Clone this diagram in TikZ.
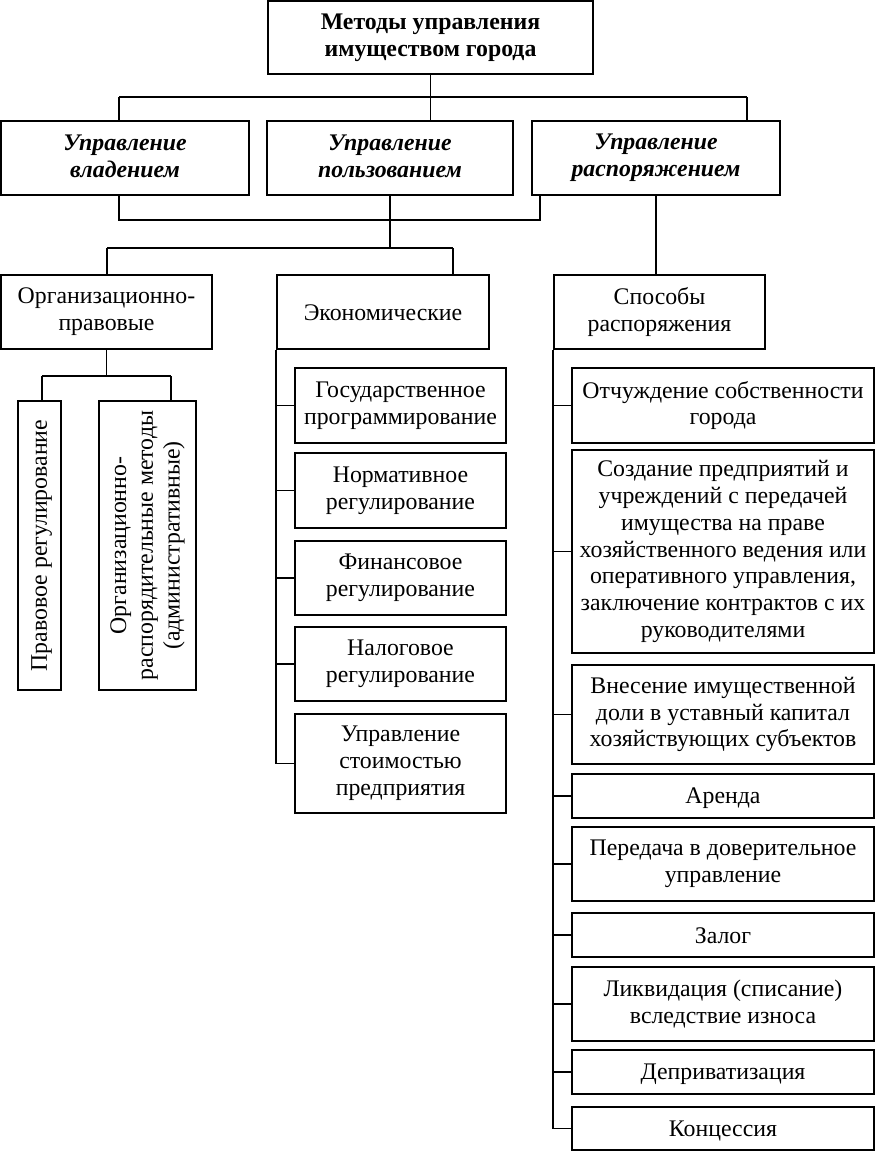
\documentclass[tikz,border=0pt]{standalone}
\usepackage{fontspec}
\setmainfont{Liberation Serif}
\newcommand\myfs{\fontsize{23.8}{26.8}\selectfont}
\newcommand\mystrut{\rule[-3.4pt]{0pt}{23.4pt}}
\begin{document}
\begin{tikzpicture}[x=1pt,y=-1pt,
  box/.style={draw, line width=1.8pt, inner sep=0pt, align=center, font=\myfs,
    execute at begin node=\mystrut, execute at end node=\mystrut},
  conn/.style={line width=1.8pt}]
\useasboundingbox (0,0) rectangle (876,1151);
% level 0
\node[box, font=\myfs\bfseries, minimum width=325, minimum height=73] (top) at (430.5,37.5) {Методы управления\\имуществом города};
% level 1
\node[box, font=\myfs\bfseries\itshape, minimum width=248, minimum height=74] (b1) at (125,158) {Управление\\владением};
\node[box, font=\myfs\bfseries\itshape, minimum width=246, minimum height=74] (b2) at (390,158) {Управление\\пользованием};
\node[box, font=\myfs\bfseries\itshape, minimum width=248, minimum height=74] (b3) at (656,158) {Управление\\распоряжением};
% level 2
\node[box, minimum width=211, minimum height=74] (org) at (106.5,312) {Организационно-\\правовые};
\node[box, minimum width=212, minimum height=74] (econ) at (383,312) {Экономические};
\node[box, minimum width=211, minimum height=74] (sposob) at (659.5,312) {Способы\\распоряжения};
% org children
\node[box, rotate=90, minimum width=289, minimum height=43] (prav) at (39.5,545.5) {Правовое регулирование};
\node[box, rotate=90, minimum width=289, minimum height=97] (orgrasp) at (147.5,545.5) {Организационно-\\распорядительные методы\\(административные)};
% econ children
\node[box, minimum width=211, minimum height=75] (e1) at (400.5,405.5) {Государственное\\программирование};
\node[box, minimum width=211, minimum height=75] (e2) at (400.5,490.5) {Нормативное\\регулирование};
\node[box, minimum width=211, minimum height=74] (e3) at (400.5,578) {Финансовое\\регулирование};
\node[box, minimum width=211, minimum height=74] (e4) at (400.5,664) {Налоговое\\регулирование};
\node[box, minimum width=211, minimum height=99] (e5) at (400.5,763.5) {Управление\\стоимостью\\предприятия};
% sposob children
\node[box, minimum width=302, minimum height=75] (r1) at (723,405.5) {Отчуждение собственности\\города};
\node[box, minimum width=302, minimum height=203] (r2) at (723,551.5) {Создание предприятий и\\учреждений с передачей\\имущества на праве\\хозяйственного ведения или\\оперативного управления,\\заключение контрактов с их\\руководителями};
\node[box, minimum width=302, minimum height=99] (r3) at (723,714.5) {Внесение имущественной\\доли в уставный капитал\\хозяйствующих субъектов};
\node[box, minimum width=302, minimum height=44] (r4) at (723,796) {Аренда};
\node[box, minimum width=302, minimum height=74] (r5) at (723,864) {Передача в доверительное\\управление};
\node[box, minimum width=302, minimum height=44] (r6) at (723,935) {Залог};
\node[box, minimum width=302, minimum height=74] (r7) at (723,1004) {Ликвидация (списание)\\вследствие износа};
\node[box, minimum width=302, minimum height=44] (r8) at (723,1072) {Деприватизация};
\node[box, minimum width=302, minimum height=43] (r9) at (723,1128.5) {Концессия};
% connectors level 0 -> 1
\coordinate (jA) at (119,97);
\coordinate (jB) at (747,97);
\draw[conn] (top.south) -- (top.south |- jA);
\draw[conn] (jA) -- (jB);
\draw[conn] (jA) -- (jA |- b1.north);
\draw[conn] (top.south |- jA) -- (top.south |- b2.north);
\draw[conn] (jB) -- (jB |- b3.north);
% level 1 -> 2
\coordinate (jC) at (119,220);
\coordinate (jD) at (540,220);
\coordinate (jE) at (107,248);
\coordinate (jF) at (453,248);
\draw[conn] (jC |- b1.south) -- (jC) -- (jD) -- (jD |- b3.south);
\draw[conn] (b2.south) -- (b2.south |- jE);
\draw[conn] (jE) -- (jF);
\draw[conn] (jE) -- (jE |- org.north);
\draw[conn] (jF) -- (jF |- econ.north);
\draw[conn] (b3.south) -- (b3.south |- sposob.north);
% org -> children
\coordinate (jG) at (42,376);
\coordinate (jH) at (171,376);
\draw[conn] (org.south) -- (org.south |- jG);
\draw[conn] (jG) -- (jH);
\draw[conn] (jG) -- (jG |- prav.east);
\draw[conn] (jH) -- (jH |- orgrasp.east);
% econ trunk
\draw[conn] (econ.south west) -- (econ.south west |- e5.west);
\foreach \n in {e1,e2,e3,e4,e5} \draw[conn] (econ.south west |- \n.west) -- (\n.west);
% sposob trunk
\draw[conn] (sposob.south west) -- (sposob.south west |- r9.west);
\foreach \n in {r1,r2,r3,r4,r5,r6,r7,r8,r9} \draw[conn] (sposob.south west |- \n.west) -- (\n.west);
\end{tikzpicture}
\end{document}
